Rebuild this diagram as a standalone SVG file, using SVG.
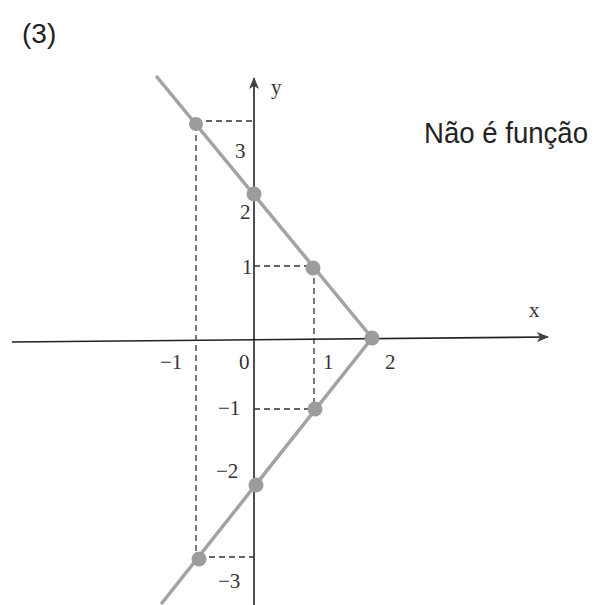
<svg xmlns="http://www.w3.org/2000/svg" width="603" height="605" viewBox="0 0 603 605">
<style>
.ax{stroke:#222;stroke-width:1.6;fill:none}
.dash{stroke:#333;stroke-width:1.3;stroke-dasharray:6,4;fill:none}
.gl{stroke:#a3a3a3;stroke-width:3.5;fill:none;stroke-linecap:round}
.pt{fill:#9c9c9c}
.lbl{font-family:"Liberation Serif",serif;font-size:21px;fill:#333}
.sans{font-family:"Liberation Sans",Arial,sans-serif;fill:#222}
</style>
<defs>
<marker id="arr" markerWidth="12" markerHeight="10" refX="11" refY="5" orient="auto" markerUnits="userSpaceOnUse">
<path d="M0,0 L12,5 L0,10 L3,5 Z" fill="#444"/>
</marker>
</defs>
<rect width="603" height="605" fill="#fff"/>
<text class="sans" x="22" y="43" font-size="28">(3)</text>
<text class="sans" x="424" y="143" font-size="30" textLength="164" lengthAdjust="spacingAndGlyphs">Não é função</text>
<g id="connectors">
<line class="ax" x1="12" y1="342" x2="548" y2="337" marker-end="url(#arr)"/>
<line class="ax" x1="254" y1="605" x2="254" y2="78" marker-end="url(#arr)"/>
<line class="dash" x1="196" y1="121" x2="254" y2="121"/>
<line class="dash" x1="196" y1="125" x2="196" y2="559"/>
<line class="dash" x1="254" y1="266" x2="313" y2="266"/>
<line class="dash" x1="314" y1="268" x2="314" y2="409"/>
<line class="dash" x1="254" y1="409" x2="315" y2="409"/>
<line class="dash" x1="199" y1="557" x2="254" y2="557"/>
<polyline class="gl" points="157,77 372,338 162,603"/>
</g>
<g id="points">
<circle class="pt" cx="196" cy="124" r="7"/>
<circle class="pt" cx="254" cy="194" r="7.5"/>
<circle class="pt" cx="313" cy="268" r="7.5"/>
<circle class="pt" cx="372" cy="338" r="7.5"/>
<circle class="pt" cx="315" cy="409" r="7.5"/>
<circle class="pt" cx="256" cy="485" r="7.5"/>
<circle class="pt" cx="199" cy="559" r="7.5"/>
</g>
<g id="labels">
<text class="lbl" x="271" y="94" font-size="22">y</text>
<text class="lbl" x="529" y="317" font-size="22">x</text>
<text class="lbl" x="235" y="158">3</text>
<text class="lbl" x="240" y="219">2</text>
<text class="lbl" x="242" y="274">1</text>
<text class="lbl" x="160" y="369">−1</text>
<text class="lbl" x="239" y="369">0</text>
<text class="lbl" x="323" y="369">1</text>
<text class="lbl" x="385" y="369">2</text>
<text class="lbl" x="218" y="415">−1</text>
<text class="lbl" x="216" y="478">−2</text>
<text class="lbl" x="218" y="588">−3</text>
</g>
</svg>
